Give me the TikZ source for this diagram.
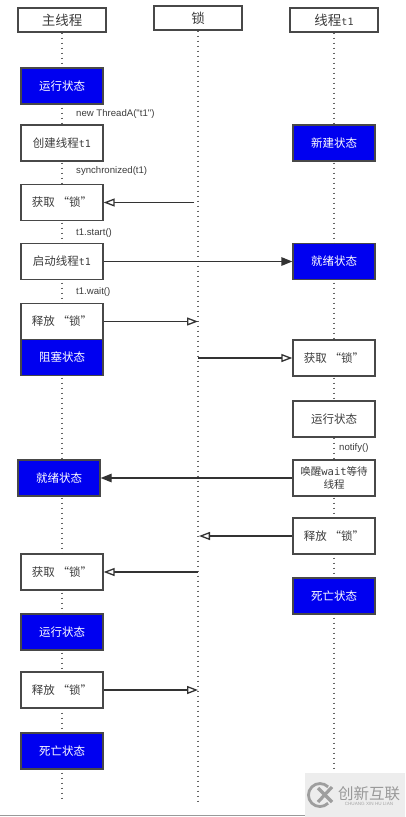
\documentclass[tikz,border=0pt]{standalone}
\usepackage{fontspec}
\setmainfont{Noto Sans CJK SC}
\newfontfamily\lat{Liberation Sans}
\newfontfamily\mon{DejaVu Sans Mono}
\usetikzlibrary{arrows.meta,calc}
\definecolor{edgec}{HTML}{484848}
\definecolor{textc}{HTML}{3C3C3C}
\definecolor{stateb}{HTML}{0000F0}
\tikzset{
  box/.style={draw=edgec,line width=1.3pt,minimum width=82pt,minimum height=36pt,inner sep=1pt,align=center,font=\fontsize{11.5}{14}\selectfont,text=textc,fill=white},
  state/.style={box,fill=stateb,text=white},
  head/.style={box,minimum width=88pt,minimum height=24pt,font=\fontsize{13.5}{16}\selectfont},
  life/.style={draw=edgec!85,line width=1.5pt,dash pattern=on 1.6pt off 3.4pt},
  openarr/.style={draw=black!80,line width=1.3pt,-{Triangle[length=11pt,width=8pt,fill=white]}},
  fullarr/.style={draw=black!80,line width=1.3pt,-{Triangle[length=11pt,width=8.5pt]}},
  lbl/.style={font=\lat\fontsize{9.6}{11}\selectfont,text=textc,anchor=west,inner sep=0pt}
}
\newcommand{\tone}{{\mon\fontsize{10}{12}\selectfont t1}}
\begin{document}
\begin{tikzpicture}[x=1pt,y=-1pt]
\useasboundingbox (0,0) rectangle (405,817);
\fill[white] (0,0) rectangle (405,817);
\node[head] (hm) at (62,20) {主线程};
\node[head] (hl) at (198,18) {锁};
\node[head] (ht) at (334,20) {线程\tone};
\coordinate (em) at (62,800);
\coordinate (el) at (198,803);
\coordinate (et) at (334,772);
\draw[life] (hm) -- (em);
\draw[life] (hl) -- (el);
\draw[life] (ht) -- (et);
% left column
\node[state] (m1) at (62,86) {运行状态};
\node[box] (m2) at (62,143) {创建线程\tone};
\node[box] (m3) at (62,202.5) {获取 “锁”};
\node[box] (m4) at (62,261.5) {启动线程\tone};
\node[box] (m5) at (62,321.5) {释放 “锁”};
\node[state] (m6) at (62,357.5) {阻塞状态};
\node[state] (m7) at (59,478) {就绪状态};
\node[box] (m8) at (62,572) {获取 “锁”};
\node[state] (m9) at (62,632) {运行状态};
\node[box] (m10) at (62,690) {释放 “锁”};
\node[state] (m11) at (62,751) {死亡状态};
% right column
\node[state] (t1) at (334,143) {新建状态};
\node[state] (t2) at (334,261.5) {就绪状态};
\node[box] (t3) at (334,358) {获取 “锁”};
\node[box] (t4) at (334,419) {运行状态};
\node[box,font=\fontsize{10.5}{13}\selectfont] (t5) at (334,478) {唤醒{\mon wait}等待\\线程};
\node[box] (t6) at (334,536) {释放 “锁”};
\node[state] (t7) at (334,596) {死亡状态};
% labels
\node[lbl] (l1) at (76,114.5) {new ThreadA("t1")};
\node[lbl] (l2) at (76,171.5) {synchronized(t1)};
\node[lbl] (l3) at (76,233.5) {t1.start()};
\node[lbl] (l4) at (76,292.5) {t1.wait()};
\node[lbl] (l5) at (339,448) {notify()};
% connectors
\draw[openarr] ([xshift=-4pt]m3.east -| hl) -- (m3.east);
\draw[fullarr] (m4.east) -- (m4.east -| t2.west);
\draw[openarr] (m5.east) -- (m5.east -| hl);
\draw[openarr] (t3.west -| hl) -- (t3.west);
\draw[fullarr] (t5.west) -- (t5.west -| m7.east);
\draw[openarr] (t6.west) -- ([xshift=1pt]t6.west -| hl);
\draw[openarr] (m8.east -| hl) -- (m8.east);
\draw[openarr] (m10.east) -- (m10.east -| hl);
% watermark
\fill[black!7] (305,773) rectangle (405,817);
\draw[black!40,line width=1pt] (0,815.5) -- (305,815.5);
\draw[black!38,line width=2.8pt] (328.1,786.9) arc[start angle=45,end angle=315,radius=11.5pt];
\draw[black!38,line width=3.2pt] (318,788) -- (332,802);
\draw[black!38,line width=3.2pt] (318,802) -- (332,787);
\node[font=\fontsize{15.5}{16}\selectfont,text=black!40,inner sep=0pt] (wm) at (369,794) {创新互联};
\node[font=\lat\fontsize{4.6}{5}\selectfont,text=black!35,inner sep=0pt] (wp) at (369,804) {CHUANG XIN HU LIAN};
\end{tikzpicture}
\end{document}
